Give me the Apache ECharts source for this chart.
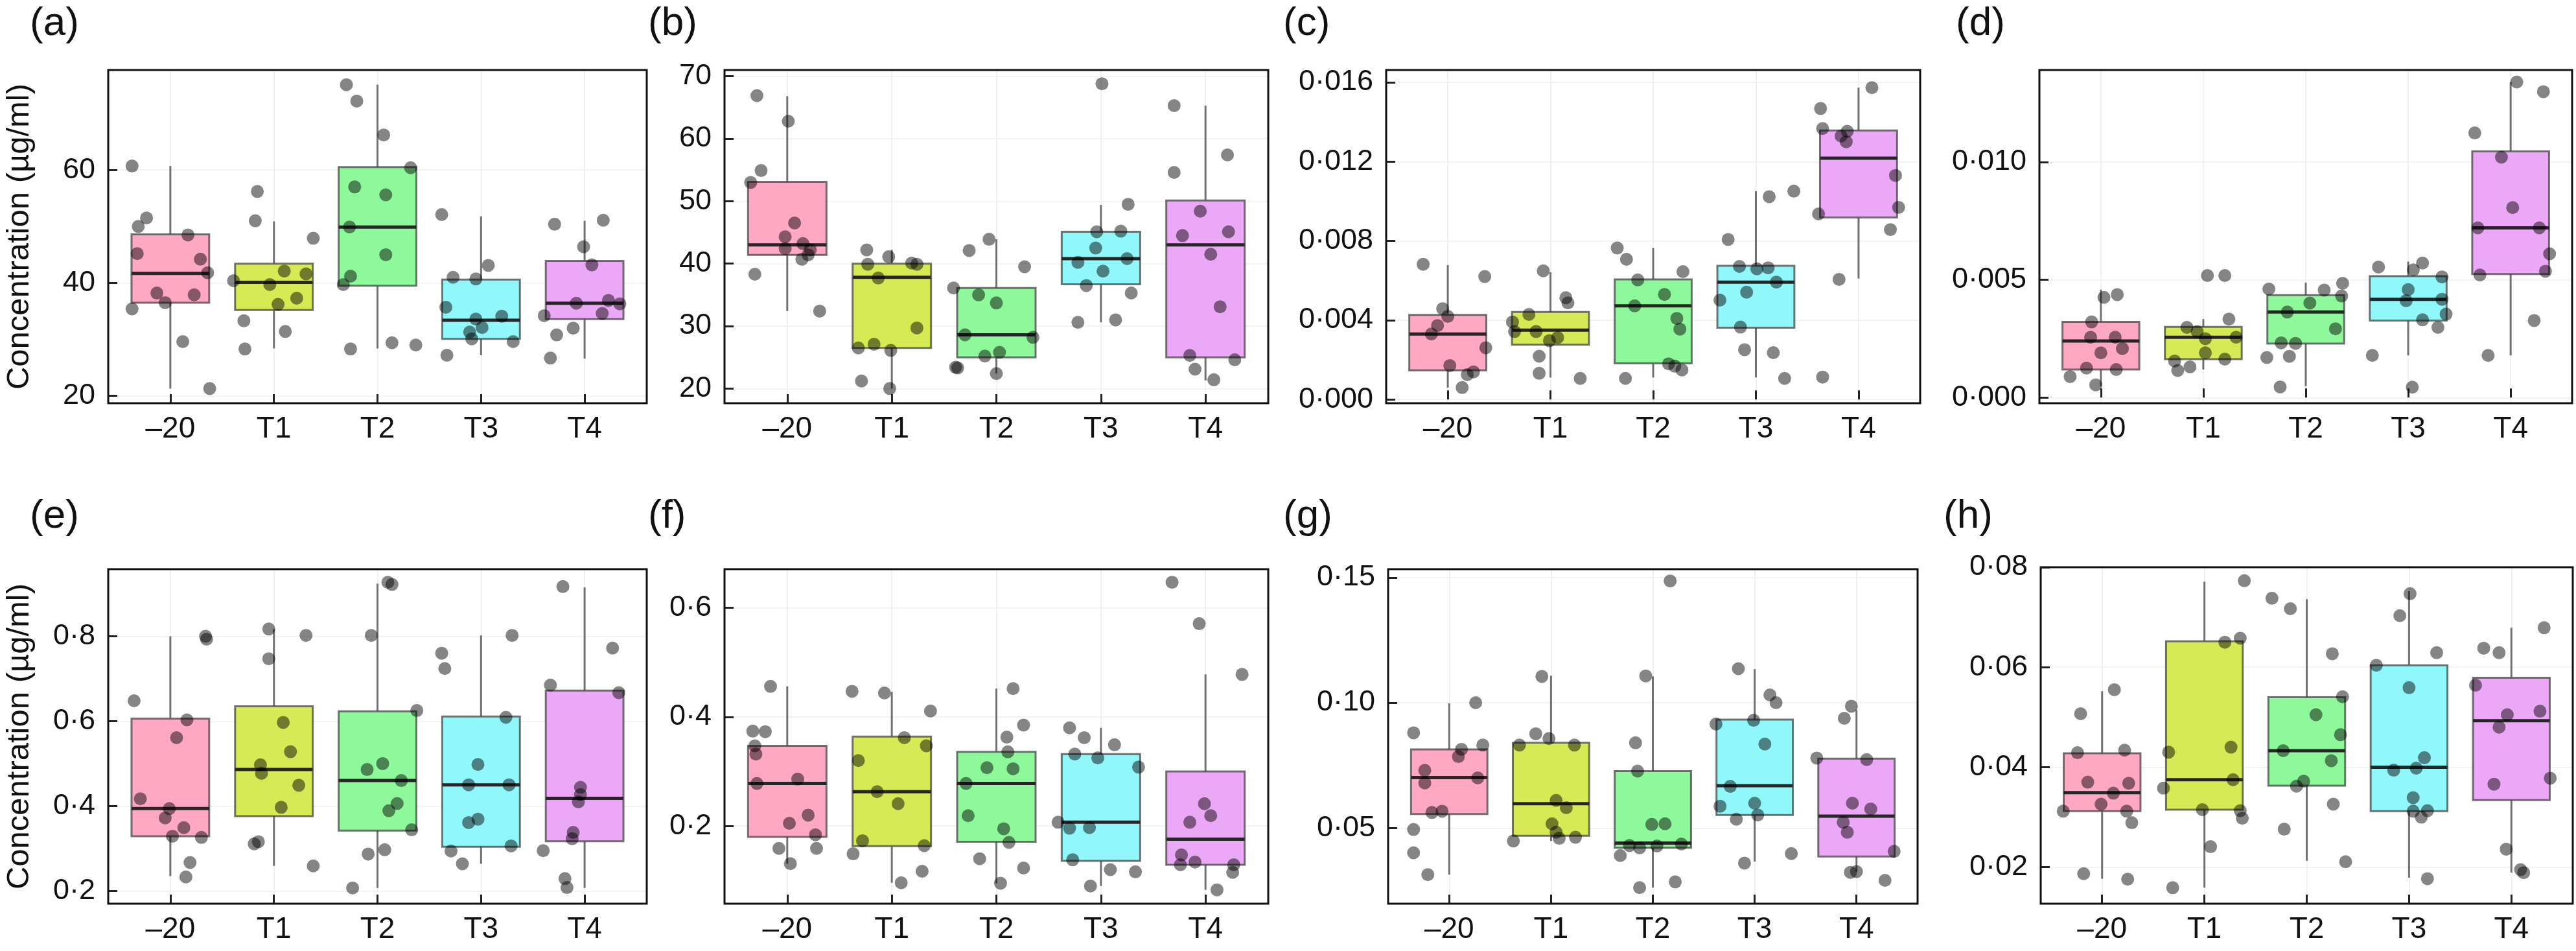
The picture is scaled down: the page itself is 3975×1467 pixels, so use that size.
<!DOCTYPE html>
<html>
<head>
<meta charset="utf-8">
<script src="https://cdn.jsdelivr.net/npm/echarts@6/dist/echarts.min.js"></script>
<style>
  html, body { margin: 0; padding: 0; background: #fff; }
  #chart { width: 3975px; height: 1467px; }
</style>
</head>
<body>
<div id="chart"></div>
<script>
// groups on the x axis
const categories = ['\u201320', 'T1', 'T2', 'T3', 'T4']

// box stats per group: [whisker low, Q1, median, Q3, whisker high]
// (a)
const boxA = [[21.3, 36.5, 41.7, 48.6, 60.7], [28.4, 35.2, 40.1, 43.4, 50.9], [28.4, 39.5, 49.9, 60.5, 75.1], [27.2, 30.1, 33.4, 40.6, 51.8], [26.6, 33.6, 36.4, 43.9, 51.0]]
const ptsA = [
  [60.7, 51.5, 50.0, 48.5, 45.2, 44.2, 41.8, 38.2, 37.9, 36.5, 35.4, 29.6, 21.3],
  [56.2, 51.0, 47.9, 42.1, 41.6, 40.4, 39.7, 37.3, 36.2, 33.3, 31.4, 28.3],
  [75.1, 72.2, 66.2, 60.4, 57.0, 55.6, 49.9, 45.0, 41.2, 39.7, 28.3, 29.4, 29.0],
  [52.1, 43.1, 41.0, 40.7, 35.7, 34.1, 33.6, 32.1, 31.3, 30.1, 29.6, 27.2],
  [50.4, 51.1, 46.4, 43.2, 36.4, 36.9, 36.3, 34.6, 34.2, 32.0, 30.8, 26.7]
]
const jitA = [
  [-0.37, -0.23, -0.31, 0.17, -0.32, 0.29, 0.36, -0.13, 0.23, -0.05, -0.37, 0.12, 0.38],
  [-0.16, -0.18, 0.38, 0.10, 0.31, -0.39, -0.04, 0.22, 0.04, -0.29, 0.11, -0.28],
  [-0.30, -0.20, 0.06, 0.32, -0.22, 0.08, -0.27, 0.08, -0.26, -0.33, -0.26, 0.14, 0.37],
  [-0.38, 0.07, -0.27, -0.05, -0.34, 0.20, -0.05, 0.01, -0.11, -0.09, 0.31, -0.33],
  [-0.29, 0.18, -0.01, 0.07, -0.08, 0.23, 0.34, 0.17, -0.39, -0.11, -0.27, -0.33]
]
const rangeA = [18.7, 77.7]
const ticksA = [20, 40, 60]

// (b)
const boxB = [[32.4, 41.4, 43.0, 53.1, 66.8], [20.0, 26.5, 37.8, 40.0, 42.2], [22.4, 25.0, 28.6, 36.1, 43.9], [30.6, 36.7, 40.8, 45.1, 49.4], [21.3, 25.0, 43.0, 50.1, 65.3]]
const ptsB = [
  [66.9, 62.8, 54.9, 53.0, 46.5, 44.3, 43.2, 42.4, 42.2, 41.4, 40.7, 38.3, 32.4],
  [42.2, 41.1, 39.9, 40.1, 39.9, 37.7, 29.7, 26.5, 27.1, 26.1, 21.2, 20.0],
  [43.9, 42.1, 39.5, 36.1, 35.0, 33.7, 28.6, 28.2, 25.2, 25.8, 23.4, 23.3, 22.4],
  [68.8, 49.5, 45.1, 45.2, 42.5, 40.2, 40.8, 38.8, 36.5, 35.3, 30.6, 31.0],
  [65.3, 54.6, 57.4, 48.4, 44.5, 45.1, 41.5, 33.1, 25.3, 24.6, 23.1, 21.4]
]
const jitB = [
  [-0.29, 0.01, -0.25, -0.35, 0.07, -0.02, 0.15, -0.02, 0.22, 0.20, 0.14, -0.31, 0.31],
  [-0.24, -0.03, -0.23, 0.19, 0.24, -0.13, 0.24, -0.32, -0.17, -0.01, -0.29, -0.02],
  [-0.07, -0.26, 0.27, -0.41, -0.17, 0.00, -0.30, 0.35, -0.11, 0.03, -0.39, -0.37, 0.00],
  [0.01, 0.26, -0.04, 0.19, -0.05, -0.22, 0.25, 0.02, -0.14, 0.29, -0.22, 0.14],
  [-0.30, -0.30, 0.21, -0.05, -0.22, 0.22, 0.05, 0.14, -0.15, 0.28, -0.10, 0.08]
]
const rangeB = [17.65, 71.0]
const ticksB = [20, 30, 40, 50, 60, 70]

// (c)
const boxC = [[0.0006, 0.00147, 0.0033, 0.00427, 0.00678], [0.00111, 0.00276, 0.0035, 0.00441, 0.00642], [0.00111, 0.00182, 0.00472, 0.00606, 0.00764], [0.00111, 0.00362, 0.00592, 0.00674, 0.01051], [0.0061, 0.00918, 0.01217, 0.01357, 0.01573]]
const ptsC = [
  [0.00682, 0.0062, 0.00458, 0.00419, 0.00373, 0.0033, 0.00261, 0.00171, 0.00139, 0.00125, 0.0006],
  [0.00649, 0.00513, 0.00487, 0.00429, 0.00391, 0.00343, 0.00343, 0.00312, 0.00297, 0.00218, 0.00132, 0.00106],
  [0.00764, 0.00707, 0.00645, 0.00603, 0.0053, 0.00472, 0.00409, 0.00355, 0.0018, 0.00168, 0.00149, 0.00106],
  [0.01051, 0.01023, 0.00807, 0.00671, 0.00659, 0.00664, 0.00592, 0.00541, 0.00501, 0.00365, 0.00251, 0.00236, 0.00106],
  [0.01573, 0.01468, 0.01367, 0.01353, 0.01329, 0.013, 0.0113, 0.00936, 0.00969, 0.00857, 0.00606, 0.00113]
]
const jitC = [
  [-0.24, 0.36, -0.05, 0.00, -0.10, -0.16, 0.37, 0.02, 0.25, 0.19, 0.14],
  [-0.07, 0.15, 0.17, -0.21, -0.37, -0.35, -0.14, 0.07, -0.01, -0.11, -0.11, 0.29],
  [-0.35, -0.26, 0.29, -0.15, 0.11, -0.18, 0.23, 0.26, 0.15, 0.21, 0.28, -0.27],
  [0.37, 0.13, -0.27, -0.16, 0.01, 0.12, 0.20, -0.09, -0.35, -0.15, -0.11, 0.17, 0.28],
  [0.13, -0.37, -0.35, -0.11, -0.17, -0.12, 0.36, -0.39, 0.39, 0.31, -0.19, -0.35]
]
const rangeC = [-0.00019, 0.01662]
const ticksC = [0, 0.004, 0.008, 0.012, 0.016]

// (d)
const boxD = [[0.00048, 0.00119, 0.0024, 0.00321, 0.00458], [0.00119, 0.00163, 0.00256, 0.0030, 0.00333], [0.00048, 0.00229, 0.00363, 0.00435, 0.00488], [0.00179, 0.00327, 0.00417, 0.00515, 0.00577], [0.00179, 0.00524, 0.0072, 0.01045, 0.01339]]
const ptsD = [
  [0.00437, 0.00425, 0.00321, 0.00256, 0.00256, 0.00208, 0.0019, 0.00125, 0.00119, 0.00089, 0.00054],
  [0.00518, 0.00518, 0.00333, 0.00298, 0.0028, 0.00256, 0.0025, 0.0019, 0.00163, 0.00155, 0.0013, 0.00115],
  [0.00461, 0.00456, 0.00485, 0.00431, 0.00401, 0.00363, 0.00292, 0.00232, 0.0023, 0.0017, 0.00175, 0.00045],
  [0.00554, 0.00571, 0.00542, 0.00512, 0.00458, 0.00417, 0.00411, 0.00354, 0.0033, 0.00298, 0.00179, 0.00044],
  [0.01339, 0.01298, 0.01123, 0.0102, 0.00806, 0.0072, 0.0072, 0.0061, 0.0052, 0.00536, 0.00327, 0.00179]
]
const jitD = [
  [0.16, 0.03, -0.09, -0.10, 0.14, 0.21, 0.00, -0.14, 0.15, -0.30, -0.05],
  [0.04, 0.21, 0.25, -0.16, -0.06, 0.32, 0.02, 0.02, 0.21, -0.28, -0.13, -0.25],
  [-0.36, 0.18, 0.36, 0.35, 0.04, -0.18, 0.29, -0.24, -0.10, -0.38, -0.16, -0.25],
  [-0.29, 0.14, 0.05, 0.33, 0.00, 0.33, -0.02, 0.37, 0.14, 0.29, -0.35, 0.04],
  [0.06, 0.32, -0.35, -0.09, 0.02, -0.32, 0.28, 0.38, -0.30, 0.34, 0.23, -0.22]
]
const rangeD = [-0.00024, 0.0139]
const ticksD = [0, 0.005, 0.010]

// (e)
const boxE = [[0.235, 0.329, 0.394, 0.606, 0.8], [0.259, 0.376, 0.486, 0.635, 0.817], [0.207, 0.342, 0.46, 0.623, 0.924], [0.264, 0.304, 0.45, 0.611, 0.802], [0.207, 0.317, 0.418, 0.672, 0.915]]
const ptsE = [
  [0.8, 0.793, 0.648, 0.603, 0.561, 0.417, 0.394, 0.372, 0.349, 0.329, 0.326, 0.267, 0.233],
  [0.817, 0.802, 0.747, 0.597, 0.528, 0.497, 0.477, 0.449, 0.397, 0.316, 0.311, 0.259],
  [0.927, 0.922, 0.802, 0.625, 0.5, 0.486, 0.46, 0.406, 0.389, 0.344, 0.297, 0.287, 0.207],
  [0.76, 0.724, 0.802, 0.609, 0.498, 0.45, 0.45, 0.369, 0.361, 0.306, 0.294, 0.264],
  [0.917, 0.772, 0.685, 0.667, 0.444, 0.427, 0.41, 0.338, 0.323, 0.295, 0.229, 0.208]
]
const jitE = [
  [0.34, 0.35, -0.35, 0.16, 0.06, -0.29, -0.01, -0.05, 0.13, 0.02, 0.30, 0.19, 0.15],
  [-0.05, 0.31, -0.05, 0.09, 0.16, -0.13, -0.12, 0.24, 0.07, -0.15, -0.19, 0.38],
  [0.10, 0.14, -0.06, 0.38, 0.05, -0.10, 0.23, 0.19, 0.11, 0.33, 0.07, -0.09, -0.24],
  [-0.38, -0.35, 0.30, 0.24, -0.03, -0.12, 0.27, -0.03, -0.12, 0.29, -0.29, -0.18],
  [-0.21, 0.27, -0.33, 0.33, -0.04, -0.04, -0.06, -0.11, -0.12, -0.40, -0.19, -0.17]
]
const rangeE = [0.170, 0.958]
const ticksE = [0.2, 0.4, 0.6, 0.8]

// (f)
const boxF = [[0.131, 0.18, 0.278, 0.347, 0.456], [0.096, 0.163, 0.263, 0.364, 0.446], [0.095, 0.171, 0.278, 0.336, 0.452], [0.09, 0.136, 0.207, 0.332, 0.38], [0.083, 0.129, 0.176, 0.3, 0.478]]
const ptsF = [
  [0.456, 0.374, 0.373, 0.347, 0.332, 0.278, 0.286, 0.22, 0.205, 0.184, 0.159, 0.159, 0.131],
  [0.447, 0.444, 0.411, 0.362, 0.347, 0.32, 0.263, 0.241, 0.173, 0.164, 0.149, 0.117, 0.096],
  [0.452, 0.385, 0.363, 0.336, 0.307, 0.305, 0.278, 0.219, 0.195, 0.17, 0.14, 0.123, 0.095],
  [0.38, 0.362, 0.349, 0.332, 0.325, 0.308, 0.207, 0.196, 0.197, 0.138, 0.12, 0.116, 0.09],
  [0.647, 0.571, 0.478, 0.241, 0.219, 0.207, 0.147, 0.134, 0.129, 0.129, 0.115, 0.083]
]
const jitF = [
  [-0.16, -0.33, -0.21, -0.31, -0.30, -0.29, 0.10, 0.20, 0.02, 0.27, -0.08, 0.28, 0.03],
  [-0.38, -0.07, 0.37, 0.12, 0.33, -0.32, -0.14, 0.06, -0.28, 0.31, -0.37, 0.29, 0.09],
  [0.16, 0.26, 0.10, 0.11, -0.09, 0.16, -0.29, -0.27, 0.07, 0.12, -0.16, 0.26, 0.04],
  [-0.30, -0.16, 0.13, -0.25, -0.03, 0.36, -0.41, -0.30, -0.11, -0.27, 0.09, 0.33, -0.10],
  [-0.32, -0.06, 0.35, -0.01, 0.05, -0.15, -0.23, -0.10, -0.24, 0.27, 0.26, 0.11]
]
const rangeF = [0.0576, 0.671]
const ticksF = [0.2, 0.4, 0.6]

// (g)
const boxG = [[0.0314, 0.0556, 0.0701, 0.0814, 0.0998], [0.0448, 0.0469, 0.0597, 0.084, 0.1108], [0.0262, 0.0421, 0.044, 0.0727, 0.1105], [0.0366, 0.0552, 0.0669, 0.0933, 0.1134], [0.0326, 0.0386, 0.0547, 0.0777, 0.0971]]
const ptsG = [
  [0.1, 0.088, 0.0831, 0.0814, 0.0785, 0.073, 0.068, 0.07, 0.0562, 0.0567, 0.0494, 0.0401, 0.0314],
  [0.1105, 0.0876, 0.0857, 0.0831, 0.0831, 0.061, 0.0581, 0.0517, 0.0483, 0.0459, 0.0463, 0.0448],
  [0.1486, 0.1107, 0.084, 0.0727, 0.0514, 0.0517, 0.043, 0.0421, 0.0428, 0.0436, 0.039, 0.0285, 0.0262],
  [0.1136, 0.1031, 0.1, 0.0915, 0.093, 0.0835, 0.0666, 0.0587, 0.0599, 0.0552, 0.0535, 0.0398, 0.036],
  [0.0986, 0.0938, 0.0779, 0.0773, 0.0599, 0.0576, 0.0523, 0.0483, 0.0407, 0.0323, 0.0326, 0.0291]
]
const jitG = [
  [0.26, -0.35, 0.33, 0.12, 0.09, -0.24, -0.24, 0.28, -0.17, -0.07, -0.35, -0.35, -0.21],
  [-0.09, -0.15, -0.02, -0.31, 0.23, 0.05, 0.15, 0.01, 0.05, 0.08, 0.24, -0.37],
  [0.17, -0.07, -0.17, -0.15, -0.01, 0.12, -0.23, -0.13, 0.04, 0.28, -0.32, 0.22, -0.13],
  [-0.16, 0.15, 0.21, -0.38, -0.01, 0.10, -0.24, -0.34, 0.00, 0.03, -0.18, 0.36, -0.10],
  [-0.05, -0.12, -0.39, 0.10, -0.04, 0.14, -0.13, -0.09, 0.37, -0.06, 0.00, 0.28]
]
const rangeG = [0.0198, 0.1533]
const ticksG = [0.05, 0.10, 0.15]

// (h)
const boxH = [[0.0177, 0.0312, 0.0349, 0.0428, 0.0552], [0.0159, 0.0315, 0.0375, 0.0652, 0.0771], [0.0213, 0.0363, 0.0433, 0.054, 0.0736], [0.0179, 0.0312, 0.04, 0.0604, 0.0752], [0.0189, 0.0334, 0.0493, 0.0579, 0.0679]]
const ptsH = [
  [0.0555, 0.0507, 0.0429, 0.0434, 0.037, 0.0368, 0.0348, 0.0326, 0.0312, 0.0312, 0.0289, 0.0187, 0.0176],
  [0.0773, 0.0658, 0.065, 0.043, 0.044, 0.0375, 0.0358, 0.0315, 0.0313, 0.0298, 0.0241, 0.0159],
  [0.0738, 0.0717, 0.0627, 0.0541, 0.0505, 0.0465, 0.0433, 0.0413, 0.0372, 0.0362, 0.0326, 0.0276, 0.0211],
  [0.0747, 0.0703, 0.0629, 0.0604, 0.0559, 0.0419, 0.0394, 0.0398, 0.0339, 0.0312, 0.0313, 0.03, 0.0177],
  [0.0679, 0.0638, 0.0629, 0.0564, 0.0512, 0.0505, 0.048, 0.0378, 0.0366, 0.0236, 0.0195, 0.0189]
]
const jitH = [
  [0.12, -0.21, -0.24, 0.22, -0.14, 0.26, 0.11, -0.01, -0.38, 0.24, 0.29, -0.18, 0.25],
  [0.39, 0.35, 0.20, -0.35, 0.26, 0.28, -0.40, -0.02, 0.35, 0.37, 0.06, -0.31],
  [-0.34, -0.16, 0.25, 0.35, 0.09, 0.33, -0.23, 0.24, -0.03, -0.10, 0.26, -0.22, 0.38],
  [0.01, -0.09, 0.27, -0.32, 0.00, 0.15, -0.15, 0.07, 0.04, 0.04, 0.18, 0.12, 0.18],
  [0.32, -0.27, -0.12, -0.35, 0.28, -0.04, -0.12, 0.38, -0.17, -0.05, 0.09, 0.12]
]
const rangeH = [0.0127, 0.08]
const ticksH = [0.02, 0.04, 0.06, 0.08]

const FONT = "'Liberation Sans', Arial, Helvetica, sans-serif"
const boxColors = ['#ffa8c4', '#d6ea55', '#8ef99b', '#90f7fa', '#eba8f6']
const yTitle = 'Concentration (\u00b5g/ml)'

// panel layout: [left, top, width, height]
const panels = [
  { tag: '(a)', box: boxA, pts: ptsA, jit: jitA, range: rangeA, ticks: ticksA, digits: 0, rect: [167, 108, 831, 514], tagPos: [46, 6], title: true },
  { tag: '(b)', box: boxB, pts: ptsB, jit: jitB, range: rangeB, ticks: ticksB, digits: 0, rect: [1118, 108, 839, 514], tagPos: [1000, 6] },
  { tag: '(c)', box: boxC, pts: ptsC, jit: jitC, range: rangeC, ticks: ticksC, digits: 3, rect: [2139, 108, 824, 514], tagPos: [1980, 6] },
  { tag: '(d)', box: boxD, pts: ptsD, jit: jitD, range: rangeD, ticks: ticksD, digits: 3, rect: [3147, 108, 822, 514], tagPos: [3018, 6] },
  { tag: '(e)', box: boxE, pts: ptsE, jit: jitE, range: rangeE, ticks: ticksE, digits: 1, rect: [167, 878, 831, 516], tagPos: [46, 766], title: true },
  { tag: '(f)', box: boxF, pts: ptsF, jit: jitF, range: rangeF, ticks: ticksF, digits: 1, rect: [1118, 878, 839, 516], tagPos: [1000, 766] },
  { tag: '(g)', box: boxG, pts: ptsG, jit: jitG, range: rangeG, ticks: ticksG, digits: 2, rect: [2142, 878, 817, 516], tagPos: [1980, 766] },
  { tag: '(h)', box: boxH, pts: ptsH, jit: jitH, range: rangeH, ticks: ticksH, digits: 2, rect: [3149, 875, 821, 519], tagPos: [2999, 766] }
]

// box, whiskers and median drawn through the axes
function renderBox(params, api) {
  const x = api.value(0)
  const lo = api.coord([x, api.value(1)])
  const q1 = api.coord([x, api.value(2)])
  const md = api.coord([x, api.value(3)])
  const q3 = api.coord([x, api.value(4)])
  const hi = api.coord([x, api.value(5)])
  const w = api.size([0.75, 0])[0]
  const edge = 'rgba(70,70,70,0.75)'
  return {
    type: 'group',
    children: [
      { type: 'line', shape: { x1: lo[0], y1: lo[1], x2: q1[0], y2: q1[1] }, style: { stroke: edge, lineWidth: 3 } },
      { type: 'line', shape: { x1: q3[0], y1: q3[1], x2: hi[0], y2: hi[1] }, style: { stroke: edge, lineWidth: 3 } },
      { type: 'rect', shape: { x: q1[0] - w / 2, y: q3[1], width: w, height: q1[1] - q3[1] }, style: { fill: boxColors[params.dataIndex], stroke: edge, lineWidth: 3 } },
      { type: 'line', shape: { x1: md[0] - w / 2, y1: md[1], x2: md[0] + w / 2, y2: md[1] }, style: { stroke: '#262626', lineWidth: 5 } }
    ]
  }
}

const grid = [], xAxis = [], yAxis = [], series = [], title = []
const catTicks = [1, 2, 3, 4, 5]

panels.forEach((p, k) => {
  grid.push({
    left: p.rect[0], top: p.rect[1], width: p.rect[2], height: p.rect[3],
    show: true, z: 5, borderColor: '#111', borderWidth: 3, backgroundColor: 'transparent'
  })
  xAxis.push({
    type: 'value', gridIndex: k, min: 0.4, max: 5.6,
    axisLine: { show: false },
    axisTick: { show: true, inside: true, length: 14, customValues: catTicks, lineStyle: { color: '#222', width: 3 } },
    axisLabel: { customValues: catTicks, formatter: v => categories[Math.round(v) - 1], margin: 17, color: '#111', fontSize: 46, fontFamily: FONT },
    splitLine: { show: true, lineStyle: { color: '#f1f1f1', width: 2 } }
  })
  yAxis.push({
    type: 'value', gridIndex: k, min: p.range[0], max: p.range[1],
    name: p.title ? yTitle : '',
    nameLocation: 'middle', nameGap: 112,
    nameTextStyle: { fontSize: 49, color: '#111', fontFamily: FONT },
    axisLine: { show: false },
    axisTick: { show: true, inside: true, length: 14, customValues: p.ticks, lineStyle: { color: '#222', width: 3 } },
    axisLabel: { customValues: p.ticks, formatter: v => v.toFixed(p.digits).replace('.', '\u00b7'), margin: 20, color: '#111', fontSize: 45, fontFamily: FONT },
    splitLine: { show: true, lineStyle: { color: '#f3f3f3', width: 2 } }
  })
  series.push({
    type: 'custom', xAxisIndex: k, yAxisIndex: k, z: 2,
    renderItem: renderBox,
    encode: { x: 0, y: [1, 2, 3, 4, 5] },
    data: p.box.map((b, i) => [i + 1].concat(b))
  })
  const pts = []
  p.pts.forEach((vals, i) => vals.forEach((v, j) => pts.push([i + 1 + p.jit[i][j], v])))
  series.push({
    type: 'scatter', xAxisIndex: k, yAxisIndex: k, z: 3,
    symbolSize: 20,
    itemStyle: { color: 'rgba(0,0,0,0.6)' },
    data: pts
  })
  title.push({
    text: p.tag, left: p.tagPos[0], top: p.tagPos[1], padding: 0,
    textStyle: { fontSize: 62, fontWeight: 'normal', color: '#111', fontFamily: FONT }
  })
})

const chart = echarts.init(document.getElementById('chart'))
chart.setOption({
  animation: false,
  backgroundColor: '#fff',
  title,
  grid,
  xAxis,
  yAxis,
  series
})
</script>
